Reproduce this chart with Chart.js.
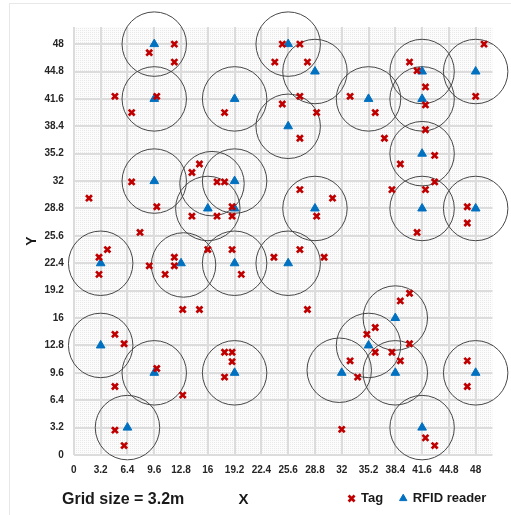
<!DOCTYPE html>
<html>
<head>
<meta charset="utf-8">
<script src="https://cdn.jsdelivr.net/npm/chart.js@4.4.1/dist/chart.umd.min.js"></script>
<style>
  html, body { margin: 0; padding: 0; background: #fff; overflow: hidden; }
  #frame { position: absolute; left: 9px; top: 3px; width: 520px; height: 530px;
           border-left: 1px solid #e8e8e8; border-top: 1px solid #e8e8e8; }
  #rfidChart { position: absolute; left: 0; top: 0; }
</style>
</head>
<body>
<div id="frame"></div>
<canvas id="rfidChart" width="511" height="515"></canvas>
<script>
// axis ticks (grid size 3.2 m)
const tickLabels = ['0', '3.2', '6.4', '9.6', '12.8', '16', '19.2', '22.4', '25.6',
  '28.8', '32', '35.2', '38.4', '41.6', '44.8', '48'];

// tags (red crosses)
const tagX = [12.0, 9.0, 12.0, 4.9, 9.9, 6.9, 18.0, 24.9, 24.0, 24.9,
  15.0, 14.1, 6.9, 17.1, 18.0, 1.8, 9.9, 18.9, 14.1, 17.1,
  18.9, 7.9, 27.0, 27.9, 27.0, 29.0, 27.0, 33.0, 36.0, 37.1,
  40.1, 41.0, 42.0, 42.0, 42.0, 43.1, 39.0, 43.1, 42.0, 38.0,
  49.0, 48.0, 27.0, 30.9, 29.0, 47.0, 47.0, 41.0, 4.0, 3.0,
  3.0, 9.0, 12.0, 12.0, 10.9, 16.0, 18.9, 20.0, 23.9, 13.0,
  15.0, 4.9, 6.0, 9.9, 4.9, 13.0, 18.0, 18.9, 18.9, 18.0,
  4.9, 6.0, 27.0, 29.9, 27.9, 40.1, 39.0, 36.0, 35.0, 40.1,
  36.0, 38.0, 39.0, 33.0, 33.9, 47.0, 47.0, 32.0, 42.0, 43.1];
const tagY = [48.0, 47.0, 45.9, 41.9, 41.9, 40.0, 40.0, 48.0, 45.9, 41.0,
  34.0, 33.0, 31.9, 31.9, 31.9, 30.0, 29.0, 29.0, 27.9, 27.9,
  27.9, 26.0, 48.0, 45.9, 41.9, 40.0, 37.0, 41.9, 40.0, 37.0,
  45.9, 44.9, 43.0, 40.9, 38.0, 35.0, 34.0, 31.9, 31.0, 31.0,
  48.0, 41.9, 31.0, 30.0, 27.9, 29.0, 27.1, 26.0, 24.0, 23.1,
  21.1, 22.1, 23.1, 22.1, 21.1, 24.0, 24.0, 21.1, 23.1, 17.0,
  17.0, 14.1, 13.0, 10.1, 8.0, 7.0, 12.0, 12.0, 10.9, 9.1,
  2.9, 1.1, 24.0, 23.1, 17.0, 18.9, 18.0, 14.9, 14.1, 13.0,
  12.0, 12.0, 11.0, 11.0, 9.1, 11.0, 8.0, 3.0, 2.0, 1.1];

// RFID readers (blue triangles)
const readerX = [9.6, 9.6, 19.2, 25.6, 28.8, 25.6, 35.2, 41.6, 41.6, 48,
  41.6, 9.6, 19.2, 16, 19.2, 28.8, 41.6, 48, 3.2, 12.8,
  19.2, 25.6, 38.4, 35.2, 3.2, 32, 38.4, 48, 9.6, 19.2,
  6.4, 41.6];
const readerY = [48, 41.6, 41.6, 48, 44.8, 38.4, 41.6, 44.8, 41.6, 44.8,
  35.2, 32, 32, 28.8, 28.8, 28.8, 28.8, 28.8, 22.4, 22.4,
  22.4, 22.4, 16, 12.8, 12.8, 9.6, 9.6, 9.6, 9.6, 9.6,
  3.2, 3.2];

// read ranges (circles)
const rangeX = [9.6, 9.6, 19.2, 25.6, 28.8, 25.6, 35.2, 41.6, 41.6, 48,
  41.6, 9.6, 19.2, 16.5, 16, 28.8, 41.6, 48, 3.2, 13.1,
  19.2, 25.6, 38.4, 35.2, 3.2, 31.7, 38.4, 48, 9.6, 19.2,
  6.4, 41.6];
const rangeY = [48, 41.6, 41.6, 48, 44.8, 38.4, 41.6, 44.8, 41.6, 44.8,
  35.2, 32, 32, 31.7, 28.8, 28.8, 28.8, 28.8, 22.4, 22.2,
  22.4, 22.4, 16, 12.8, 12.8, 9.9, 9.6, 9.6, 9.6, 9.6,
  3.2, 3.2];
const rangeRadius = 3.85;

const tickValues = tickLabels.map(Number);
const toPoints = (xs, ys) => xs.map((x, i) => ({ x: x, y: ys[i] }));

Chart.defaults.font.family = "'Liberation Sans', Arial, sans-serif";
Chart.defaults.color = '#262626';

// dotted grey fill of the plot area
const plotBackground = {
  id: 'plotBackground',
  beforeDraw(chart) {
    const { ctx, chartArea: a } = chart;
    const tile = document.createElement('canvas');
    tile.width = 2; tile.height = 2;
    const t = tile.getContext('2d');
    t.fillStyle = '#fcfcfc'; t.fillRect(0, 0, 2, 2);
    t.fillStyle = '#e9e9e9'; t.fillRect(0, 0, 1, 1);
    ctx.save();
    ctx.fillStyle = ctx.createPattern(tile, 'repeat');
    ctx.fillRect(a.left, a.top, a.right - a.left, a.bottom - a.top);
    ctx.restore();
  }
};

// push the legend a bit to the right, like the original
const legendShift = {
  id: 'legendShift',
  afterLayout(chart) {
    chart.legend.left += 11;
    chart.legend.right += 11;
  }
};

const captions = {
  id: 'captions',
  afterDraw(chart) {
    const ctx = chart.ctx;
    ctx.save();
    ctx.fillStyle = '#1a1a1a';
    ctx.textBaseline = 'middle';
    ctx.textAlign = 'left';
    ctx.font = "bold 16px 'Liberation Sans', Arial, sans-serif";
    ctx.fillText('Grid size = 3.2m', 62, 500);
    ctx.textAlign = 'center';
    ctx.font = "bold 15px 'Liberation Sans', Arial, sans-serif";
    ctx.fillText('X', 243.5, 500);
    ctx.restore();
  }
};

new Chart(document.getElementById('rfidChart'), {
  type: 'scatter',
  data: {
    datasets: [
      {
        label: 'Tag',
        data: toPoints(tagX, tagY),
        pointStyle: 'crossRot',
        pointRadius: 4.2,
        pointBorderWidth: 2.7,
        pointBorderColor: '#c00000',
        pointBackgroundColor: '#c00000',
        borderColor: '#c00000',
        backgroundColor: '#c00000'
      },
      {
        label: 'RFID reader',
        data: toPoints(readerX, readerY),
        pointStyle: 'triangle',
        pointRadius: 5,
        pointBorderWidth: 1,
        pointBorderColor: '#0070c0',
        pointBackgroundColor: '#0070c0',
        borderColor: '#0070c0',
        backgroundColor: '#0070c0'
      },
      {
        label: 'range',
        data: toPoints(rangeX, rangeY),
        pointStyle: 'circle',
        pointRadius: c => {
          const s = c.chart.scales.x;
          return s.getPixelForValue(rangeRadius) - s.getPixelForValue(0);
        },
        pointBorderWidth: 1,
        pointBorderColor: '#474747',
        pointBackgroundColor: 'rgba(0,0,0,0)',
        clip: false
      }
    ]
  },
  options: {
    responsive: false,
    animation: false,
    events: [],
    layout: { padding: { left: 0, right: 18.6, top: 27, bottom: 0 } },
    scales: {
      x: {
        type: 'linear',
        min: 0,
        max: 50,
        afterBuildTicks: s => { s.ticks = tickValues.map(v => ({ value: v })); },
        afterFit: s => { s.height = 20; },
        ticks: {
          autoSkip: false,
          maxRotation: 0,
          padding: 9,
          font: { size: 10, weight: 'bold' },
          callback: (v, i) => tickLabels[i]
        },
        grid: { color: '#dcdcdc', lineWidth: 2, drawTicks: false },
        border: { display: false }
      },
      y: {
        type: 'linear',
        min: 0,
        max: 50,
        afterBuildTicks: s => { s.ticks = tickValues.map(v => ({ value: v })); },
        afterFit: s => { s.width = 73.9; },
        ticks: {
          autoSkip: false,
          padding: 10,
          font: { size: 10, weight: 'bold' },
          callback: (v, i) => tickLabels[i]
        },
        grid: { color: '#dcdcdc', lineWidth: 2, drawTicks: false },
        border: { display: false },
        title: {
          display: true,
          text: 'Y',
          color: '#1a1a1a',
          font: { size: 14, weight: 'bold' },
          padding: { top: 24, bottom: 0 }
        }
      }
    },
    plugins: {
      legend: {
        position: 'bottom',
        align: 'end',
        labels: {
          usePointStyle: true,
          boxWidth: 6,
          boxHeight: 6,
          padding: 17,
          color: '#1a1a1a',
          font: { size: 13, weight: 'bold' },
          filter: item => item.datasetIndex < 2
        }
      },
      tooltip: { enabled: false }
    }
  },
  plugins: [plotBackground, legendShift, captions]
});
</script>
</body>
</html>
